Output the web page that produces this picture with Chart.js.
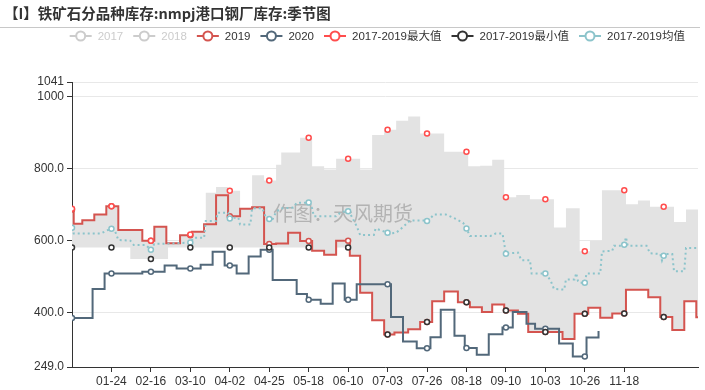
<!DOCTYPE html>
<html><head><meta charset="utf-8">
<script src="https://cdn.jsdelivr.net/npm/chart.js@4.4.1/dist/chart.umd.min.js"></script>
<style>html,body{margin:0;padding:0;background:#fff}#wrap{width:705px;height:390px;position:relative}</style>
</head><body><div id="wrap"><canvas id="c" width="705" height="390"></canvas></div>
<script>
// ---- data (x = day index of the year, 0 = 01-01) ----
const titleText = '【I】铁矿石分品种库存:nmpj港口钢厂库存:季节图';
const watermarkText = '作图：天风期货';
const xTickLabels = ['01-24','02-16','03-10','04-02','04-25','05-18','06-10','07-03','07-26','08-18','09-10','10-03','10-26','11-18'];
const yTickValues = [249, 400, 600, 800, 1000, 1041];
const yTickLabels = ['249.0', '400.0', '600.0', '800.0', '1000', '1041'];
const legendNames = ['2017','2018','2019','2020','2017-2019最大值','2017-2019最小值','2017-2019均值'];

const s2019 = [[0,687],[1,647],[6,657],[13,673],[20,696],[23,696],[27,630],[41,600],[46,600],[48,639],[55,593],[63,615],[69,615],[70,625],[77,646],[84,726],[91,668],[92,668],[98,689],[105,693],[112,591],[115,591],[119,592],[126,622],[133,599],[138,599],[140,572],[147,561],[154,600],[161,600],[162,558],[168,455],[175,379],[182,339],[184,339],[188,345],[196,354],[203,374],[207,374],[210,432],[217,459],[225,429],[230,429],[232,415],[239,402],[245,423],[252,406],[253,406],[260,397],[266,346],[276,346],[286,327],[293,397],[299,397],[301,414],[308,386],[315,398],[322,398],[323,464],[336,443],[343,388],[345,388],[350,352],[357,432],[364,387],[365,387]];
const s2020 = [[0,385],[12,466],[19,509],[23,509],[41,514],[46,514],[54,531],[61,523],[69,523],[75,533],[82,569],[89,531],[92,531],[96,509],[103,556],[110,575],[115,575],[117,491],[131,452],[137,436],[138,436],[145,425],[152,481],[159,436],[161,436],[166,479],[184,479],[186,388],[193,320],[201,301],[207,301],[209,332],[215,408],[223,336],[229,302],[230,302],[236,283],[243,340],[251,359],[253,359],[257,402],[265,369],[270,355],[276,355],[284,314],[292,278],[299,278],[300,331],[307,349]];
const sMax = [[0,689],[1,647],[6,657],[13,673],[20,696],[23,696],[27,630],[41,600],[46,600],[48,639],[55,593],[63,615],[69,617],[70,625],[78,733],[84,749],[91,738],[92,739],[98,689],[105,782],[112,767],[115,767],[119,811],[122,845],[133,886],[138,886],[140,807],[147,798],[154,828],[161,828],[168,798],[175,894],[182,908],[184,908],[189,933],[196,945],[203,898],[207,898],[217,847],[230,847],[231,807],[238,808],[245,825],[252,721],[253,721],[259,727],[267,715],[276,715],[281,637],[288,690],[296,571],[299,571],[302,600],[309,740],[322,740],[323,701],[330,712],[337,694],[345,694],[351,652],[358,687],[365,687]];
const sMin = [[0,581],[23,581],[34,549],[46,549],[56,581],[69,581],[92,581],[115,581],[138,581],[140,572],[147,561],[154,581],[161,581],[162,558],[168,455],[175,379],[182,339],[184,339],[188,345],[196,354],[203,374],[207,374],[210,432],[217,459],[225,429],[230,429],[232,415],[239,402],[245,423],[252,406],[253,406],[260,397],[266,346],[276,346],[286,327],[293,397],[299,397],[301,414],[308,386],[315,398],[322,398],[323,464],[336,443],[343,388],[345,388],[350,352],[357,432],[364,387],[365,387]];
const sMean = [[0,636],[1,620],[17,620],[20,628],[23,633],[25,628],[27,602],[34,600],[36,588],[43,588],[46,575],[48,591],[57,592],[69,595],[71,608],[77,608],[78,655],[84,655],[85,678],[91,678],[92,662],[93,664],[97,664],[98,645],[104,645],[105,690],[111,690],[113,665],[115,660],[117,660],[119,680],[122,690],[129,692],[131,705],[138,706],[140,690],[141,668],[154,668],[157,680],[161,682],[163,668],[166,640],[168,616],[176,616],[177,634],[184,622],[186,620],[189,622],[193,638],[197,656],[206,656],[207,655],[209,662],[211,673],[218,673],[224,660],[228,650],[230,634],[232,613],[244,613],[247,620],[251,620],[253,564],[260,567],[262,546],[267,546],[268,509],[276,509],[279,490],[281,466],[287,464],[288,492],[293,492],[294,510],[295,488],[296,483],[299,483],[300,509],[308,509],[309,570],[315,572],[316,586],[321,586],[322,589],[323,610],[324,586],[335,586],[337,565],[343,563],[344,545],[345,558],[346,563],[350,563],[351,515],[357,515],[358,580],[365,580]];

// ---- styles ----
const C2019 = '#d4544f', C2020 = '#52687a', CMAX = '#ff4d4d', CMIN = '#333333', CMEAN = '#8cc4cb', COFF = '#cccccc', CBAND = '#e3e3e3';
const legendColors = [COFF, COFF, C2019, C2020, CMAX, CMIN, CMEAN];
const legendOff = [true, true, false, false, false, false, false];
const FONT = "'Liberation Sans', 'Noto Sans CJK SC', sans-serif";

// category dates of the (leap) year, MM-DD
const dates = [];
for (let i = 0; i < 366; i++) {
  const d = new Date(2020, 0, 1 + i);
  dates.push(String(d.getMonth() + 1).padStart(2, '0') + '-' + String(d.getDate()).padStart(2, '0'));
}
const xTickDays = xTickLabels.map(l => dates.indexOf(l));

const marker = r => ctx => (ctx.raw && ctx.raw[0] % 23 === 0) ? r : 0;
function lineDs(label, data, color, extra) {
  return Object.assign({
    label, data, borderColor: color, borderWidth: 2, stepped: true, fill: false,
    pointRadius: marker(2.5), pointBorderColor: color, pointBackgroundColor: '#fff', pointBorderWidth: 1.5,
    pointHoverRadius: 0
  }, extra || {});
}

const decor = {
  id: 'decor',
  beforeDatasetsDraw(chart) {
    const ctx = chart.ctx;
    ctx.save();
    ctx.font = "20px 'Noto Sans CJK SC', sans-serif";
    ctx.fillStyle = 'rgba(120,120,120,0.45)';
    ctx.textAlign = 'center'; ctx.textBaseline = 'middle';
    ctx.fillText(watermarkText, 343, 213);
    ctx.restore();
  },
  afterDraw(chart) {
    const ctx = chart.ctx;
    ctx.save();
    // title
    ctx.font = "bold 14.5px 'Noto Sans CJK SC', sans-serif";
    ctx.fillStyle = '#333'; ctx.textBaseline = 'middle'; ctx.textAlign = 'left';
    ctx.fillText(titleText, 4, 13);
    // rule under title
    ctx.strokeStyle = '#c8c8c8'; ctx.lineWidth = 1;
    ctx.beginPath(); ctx.moveTo(0, 27.5); ctx.lineTo(700, 27.5); ctx.stroke();
    // legend
    ctx.font = '11.5px ' + FONT;
    const iconW = 22, gapT = 6, gapI = 10;
    const widths = legendNames.map(t => ctx.measureText(t).width);
    let total = 0;
    widths.forEach((w, i) => { total += iconW + gapT + w + (i < widths.length - 1 ? gapI : 0); });
    let x = 685 - total;
    const y = 36;
    legendNames.forEach((t, i) => {
      const c = legendColors[i];
      ctx.strokeStyle = c; ctx.lineWidth = 2;
      ctx.beginPath(); ctx.moveTo(x, y); ctx.lineTo(x + iconW, y); ctx.stroke();
      ctx.beginPath(); ctx.arc(x + iconW / 2, y, 4.5, 0, Math.PI * 2);
      ctx.fillStyle = '#fff'; ctx.fill(); ctx.stroke();
      ctx.fillStyle = legendOff[i] ? COFF : '#333';
      ctx.textBaseline = 'middle';
      ctx.fillText(t, x + iconW + gapT, y + 1);
      x += iconW + gapT + widths[i] + gapI;
    });
    ctx.restore();
  }
};

new Chart(document.getElementById('c'), {
  type: 'line',
  data: {
    datasets: [
      lineDs('2017-2019最小值', sMin, CMIN, { borderColor: 'rgba(0,0,0,0)', borderWidth: 0 }),
      lineDs('2017-2019最大值', sMax, CMAX, { borderColor: 'rgba(0,0,0,0)', borderWidth: 0, fill: { target: 0 }, backgroundColor: CBAND }),
      lineDs('2017-2019均值', sMean, CMEAN, { stepped: false, borderDash: [2, 3], borderWidth: 2 }),
      lineDs('2020', s2020, C2020),
      lineDs('2019', s2019, C2019)
    ]
  },
  plugins: [decor],
  options: {
    responsive: false, animation: false, devicePixelRatio: 1, events: [],
    layout: { padding: { top: 82, right: 7, left: 0, bottom: 0 } },
    plugins: { legend: { display: false }, title: { display: false }, tooltip: { enabled: false }, filler: { drawTime: 'beforeDatasetsDraw' } },
    scales: {
      x: {
        type: 'linear', min: 0, max: 365,
        afterBuildTicks: s => { s.ticks = xTickDays.map(v => ({ value: v })); },
        afterFit: s => { s.height = 23; },
        ticks: { autoSkip: false, maxRotation: 0, color: '#333', font: { size: 12, family: FONT }, padding: 2, callback: v => dates[v] },
        grid: { display: true, drawOnChartArea: false, drawTicks: true, tickLength: 5, tickColor: '#333' },
        border: { color: '#333', width: 1 }
      },
      y: {
        type: 'linear', min: 249, max: 1041,
        afterBuildTicks: s => { s.ticks = yTickValues.map(v => ({ value: v })); },
        afterFit: s => { s.width = 72; },
        ticks: { color: '#333', font: { size: 12, family: FONT }, padding: 3, callback: v => yTickLabels[yTickValues.indexOf(v)] },
        grid: { color: '#e8e8e8', tickColor: '#333', tickLength: 5 },
        border: { color: '#333', width: 1 }
      }
    }
  }
});
</script></body></html>
